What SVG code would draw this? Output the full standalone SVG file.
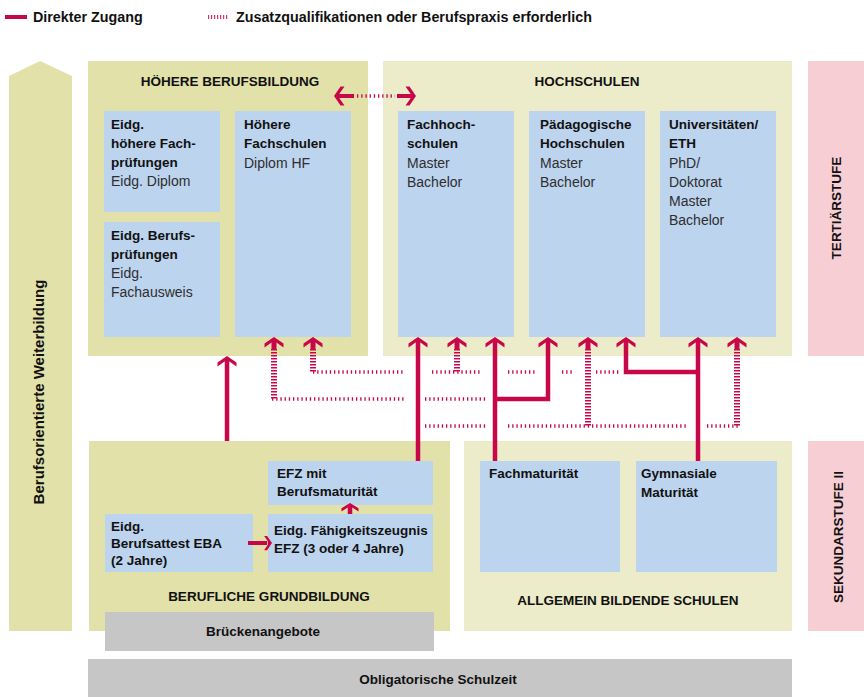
<svg xmlns="http://www.w3.org/2000/svg" xmlns:xlink="http://www.w3.org/1999/xlink" width="864" height="697" viewBox="0 0 864 697">
<defs>
<style>
text{font-family:"Liberation Sans",Arial,sans-serif;}
.b{font-weight:bold;font-size:13.5px;fill:#111111;}
.r{font-size:14px;fill:#2e2e2e;}
.t{font-weight:bold;font-size:13.5px;fill:#111111;text-anchor:middle;}
.lg{font-weight:bold;font-size:14.3px;fill:#111111;}
.olive{fill:#e3e1aa;}
.pale{fill:#edecca;}
.blue{fill:#bdd4ee;}
.pink{fill:#f8ced5;}
.gray{fill:#c6c6c6;}
.sol{stroke:#c8074a;stroke-width:4.5;fill:none;}
.vdot{stroke:#c8074a;stroke-width:6;stroke-dasharray:1.5 1.5;fill:none;}
.hdot{stroke:#c8074a;stroke-width:3.5;stroke-dasharray:1.3 2.9;fill:none;}
.hd{fill:#c8074a;}
</style>
<path id="ah" d="M0,0 L9.5,6.5 L9.5,10.5 L2.4,5.6 L-2.4,5.6 L-9.5,10.5 L-9.5,6.5 Z"/>
</defs>
<rect width="864" height="697" fill="#ffffff"/>

<g id="legend">
<path d="M5,17 H27" stroke="#c8074a" stroke-width="4"/>
<text class="lg" x="33" y="22">Direkter Zugang</text>
<path d="M208,17 H229" stroke="#d0306a" stroke-width="4" stroke-dasharray="1.2 1.8"/>
<text class="lg" x="236" y="22">Zusatzqualifikationen oder Berufspraxis erforderlich</text>
</g>

<g id="weiterbildung">
<polygon class="olive" points="9,76 40,61 72,76 72,631 9,631"/>
<text class="t" transform="translate(44,392) rotate(-90)" style="font-size:15px">Berufsorientierte Weiterbildung</text>
</g>

<g id="hoehere-berufsbildung">
<rect class="olive" x="88" y="61" width="280" height="295"/>
<text class="t" x="230" y="86">HÖHERE BERUFSBILDUNG</text>
</g>
<g id="hochschulen">
<rect class="pale" x="383" y="61" width="409" height="295"/>
<text class="t" x="587" y="86">HOCHSCHULEN</text>
</g>
<g id="tertiaerstufe">
<rect class="pink" x="808" y="61" width="56" height="295"/>
<text class="t" transform="translate(841,208) rotate(-90)">TERTIÄRSTUFE</text>
</g>

<g id="hoehere-fachpruefungen">
<rect class="blue" x="104" y="111" width="116" height="101"/>
<text class="b" x="111" y="129">Eidg.</text>
<text class="b" x="111" y="148">höhere Fach-</text>
<text class="b" x="111" y="167">prüfungen</text>
<text class="r" x="111" y="186">Eidg. Diplom</text>
</g>
<g id="berufspruefungen">
<rect class="blue" x="104" y="222" width="116" height="115"/>
<text class="b" x="111" y="240">Eidg. Berufs-</text>
<text class="b" x="111" y="259">prüfungen</text>
<text class="r" x="111" y="278">Eidg.</text>
<text class="r" x="111" y="297">Fachausweis</text>
</g>
<g id="hoehere-fachschulen">
<rect class="blue" x="235" y="111" width="116" height="226"/>
<text class="b" x="244" y="129">Höhere</text>
<text class="b" x="244" y="148">Fachschulen</text>
<text class="r" x="244" y="168">Diplom HF</text>
</g>
<g id="fachhochschulen">
<rect class="blue" x="398" y="111" width="116" height="226"/>
<text class="b" x="407" y="129">Fachhoch-</text>
<text class="b" x="407" y="148">schulen</text>
<text class="r" x="407" y="168">Master</text>
<text class="r" x="407" y="187">Bachelor</text>
</g>
<g id="paedagogische-hochschulen">
<rect class="blue" x="529" y="111" width="116" height="226"/>
<text class="b" x="540" y="129">Pädagogische</text>
<text class="b" x="540" y="148">Hochschulen</text>
<text class="r" x="540" y="168">Master</text>
<text class="r" x="540" y="187">Bachelor</text>
</g>
<g id="universitaeten">
<rect class="blue" x="660" y="111" width="116" height="226"/>
<text class="b" x="669" y="129">Universitäten/</text>
<text class="b" x="669" y="148">ETH</text>
<text class="r" x="669" y="168">PhD/</text>
<text class="r" x="669" y="187">Doktorat</text>
<text class="r" x="669" y="206">Master</text>
<text class="r" x="669" y="225">Bachelor</text>
</g>

<g id="berufliche-grundbildung">
<rect class="olive" x="89" y="441" width="361" height="190"/>
<text class="t" x="269" y="601">BERUFLICHE GRUNDBILDUNG</text>
</g>
<g id="allgemeinbildende-schulen">
<rect class="pale" x="464" y="441" width="328" height="190"/>
<text class="t" x="628" y="605">ALLGEMEIN BILDENDE SCHULEN</text>
</g>
<g id="sekundarstufe">
<rect class="pink" x="808" y="441" width="56" height="190"/>
<text class="t" transform="translate(843,537) rotate(-90)">SEKUNDARSTUFE II</text>
</g>
<g id="brueckenangebote">
<rect class="gray" x="105" y="612" width="329" height="39"/>
<text class="t" x="263" y="636">Brückenangebote</text>
</g>
<g id="obligatorische-schulzeit">
<rect class="gray" x="88" y="659" width="704" height="38"/>
<text class="t" x="438" y="684">Obligatorische Schulzeit</text>
</g>

<g id="efz-bm">
<rect class="blue" x="268" y="461" width="165" height="44"/>
<text class="b" x="277" y="478">EFZ mit</text>
<text class="b" x="277" y="496">Berufsmaturität</text>
</g>
<g id="efz">
<rect class="blue" x="268" y="514" width="165" height="58"/>
<text class="b" x="274" y="535">Eidg. Fähigkeitszeugnis</text>
<text class="b" x="274" y="553">EFZ (3 oder 4 Jahre)</text>
</g>
<g id="eba">
<rect class="blue" x="105" y="514" width="148" height="58"/>
<text class="b" x="111" y="531">Eidg.</text>
<text class="b" x="111" y="548">Berufsattest EBA</text>
<text class="b" x="111" y="565">(2 Jahre)</text>
</g>
<g id="fachmaturitaet">
<rect class="blue" x="480" y="461" width="140" height="111"/>
<text class="b" x="489" y="478">Fachmaturität</text>
</g>
<g id="gymnasiale-maturitaet">
<rect class="blue" x="636" y="461" width="141" height="111"/>
<text class="b" x="641" y="478">Gymnasiale</text>
<text class="b" x="641" y="497">Maturität</text>
</g>

<g id="connectors">
<path class="sol" d="M227,441 V361"/>
<path class="sol" d="M418,461 V342"/>
<path class="sol" d="M495,461 V342"/>
<path class="sol" d="M495,399 H548 V342"/>
<path class="sol" d="M698,461 V342"/>
<path class="sol" d="M698,372 H626 V342"/>
<path class="sol" d="M274,341 V349 M313,341 V349 M457,341 V349 M588,341 V349 M737,341 V349" style="stroke-width:5"/>
<path class="vdot" d="M274,349 V399"/>
<path class="vdot" d="M313,349 V372"/>
<path class="vdot" d="M457,349 V372"/>
<path class="vdot" d="M588,349 V426"/>
<path class="vdot" d="M737,349 V426"/>
<path class="hdot" d="M272,399 H404 M425,399 H487"/>
<path class="hdot" d="M313,372 H404 M432,372 H480 M508,372 H535 M562,372 H573 M596,372 H620"/>
<path class="hdot" d="M425,426 H487 M508,426 H687 M707,426 H740"/>
<g class="hd">
<use xlink:href="#ah" href="#ah" transform="translate(227,356)"/>
<use xlink:href="#ah" href="#ah" transform="translate(274,337)"/>
<use xlink:href="#ah" href="#ah" transform="translate(313,337)"/>
<use xlink:href="#ah" href="#ah" transform="translate(418,337)"/>
<use xlink:href="#ah" href="#ah" transform="translate(457,337)"/>
<use xlink:href="#ah" href="#ah" transform="translate(495,337)"/>
<use xlink:href="#ah" href="#ah" transform="translate(548,337)"/>
<use xlink:href="#ah" href="#ah" transform="translate(588,337)"/>
<use xlink:href="#ah" href="#ah" transform="translate(626,337)"/>
<use xlink:href="#ah" href="#ah" transform="translate(698,337)"/>
<use xlink:href="#ah" href="#ah" transform="translate(737,337)"/>
</g>
<path class="sol" d="M339,96 H354 M397,96 H411" style="stroke-width:4"/>
<path class="hdot" d="M357,96 H395"/>
<use class="hd" xlink:href="#ah" href="#ah" transform="translate(334,96) rotate(-90)"/>
<use class="hd" xlink:href="#ah" href="#ah" transform="translate(416,96) rotate(90)"/>
<path class="sol" d="M248,543 H267" style="stroke-width:4"/>
<use class="hd" xlink:href="#ah" href="#ah" transform="translate(272,543) rotate(90) scale(0.75)"/>
<path class="sol" d="M350,514 V507" style="stroke-width:4.5"/>
<use class="hd" xlink:href="#ah" href="#ah" transform="translate(350,503) scale(0.9,0.8)"/>
</g>
</svg>
